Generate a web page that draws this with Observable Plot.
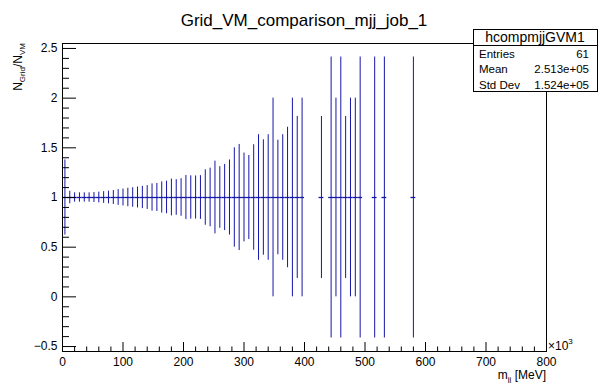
<!DOCTYPE html>
<html><head><meta charset="utf-8">
<script src="https://cdn.jsdelivr.net/npm/d3@7"></script>
<script src="https://cdn.jsdelivr.net/npm/@observablehq/plot@0.6"></script>
<style>body{margin:0;background:#fff} svg{display:block}</style>
</head><body><div id="chart"></div>
<script>
// m_jj bin centres (x10^3 MeV), bin width 8
const binCenters = [4,12,20,28,36,44,52,60,68,76,84,92,100,108,116,124,132,140,148,156,164,172,180,188,196,204,212,220,228,236,244,252,260,268,276,284,292,300,308,316,324,332,340,348,356,364,372,380,388,396,428,444,452,460,468,476,484,492,516,532,580];
const ratio = binCenters.map(() => 1);
const errY = [0.378,0.063,0.047,0.047,0.047,0.047,0.05,0.054,0.059,0.064,0.07,0.079,0.085,0.093,0.098,0.105,0.112,0.12,0.137,0.141,0.157,0.164,0.185,0.179,0.189,0.222,0.218,0.217,0.22,0.279,0.295,0.366,0.31,0.333,0.378,0.5,0.534,0.447,0.423,0.531,0.632,0.581,0.632,1.0,0.577,0.632,0.707,1.0,0.816,1.0,0.816,1.414,1.0,1.414,0.816,1.0,1.0,1.414,1.414,1.414,1.414];
const binWidth = 8;
const xTickValues = [0,100,200,300,400,500,600,700,800];
const yTickValues = [-0.5,0,0.5,1,1.5,2,2.5];
const yTickLabels = ["\u22120.5","0","0.5","1","1.5","2","2.5"];
const statsTitle = "hcompmjjGVM1";
const statsRows = [["Entries","61"],["Mean","2.513e+05"],["Std Dev","1.524e+05"]];

const rows = binCenters.map((x, i) => ({x, y: ratio[i], e: errY[i]}));
const xMinor = d3.range(0, 41).map(i => i * 20).filter(v => v % 100 !== 0);
const yMinor = d3.range(-5, 26).map(i => i / 10).filter(v => Math.round(v * 10) % 5 !== 0);
const blue = "#1616a8";
const H = 383, W = 607, mT = 43, mB = 32, mL = 62, mR = 61;
const fh = H - mT - mB, fw = W - mL - mR;
const font = "'Liberation Sans', Helvetica, Arial, sans-serif";

const plot = Plot.plot({
  width: W, height: H,
  marginTop: mT, marginBottom: mB, marginLeft: mL, marginRight: mR,
  x: {domain: [0, 800]},
  y: {domain: [-0.55, 2.55]},
  style: {fontFamily: font, fontSize: "12px", background: "#fff", color: "#000"},
  marks: [
    Plot.ruleY(rows, {y: "y", x1: d => d.x - binWidth / 2, x2: d => d.x + binWidth / 2, stroke: blue, strokeWidth: 1.3}),
    Plot.ruleX(rows, {x: "x", y1: d => d.y - d.e, y2: d => d.y + d.e, stroke: blue, strokeWidth: 1}),
    Plot.tickX(xTickValues, {x: d => d, insetTop: fh - 9, stroke: "#000"}),
    Plot.tickX(xMinor, {x: d => d, insetTop: fh - 4.5, stroke: "#000"}),
    Plot.tickY(yTickValues, {y: d => d, insetRight: fw - 14, stroke: "#000"}),
    Plot.tickY(yMinor, {y: d => d, insetRight: fw - 7, stroke: "#000"}),
    Plot.axisX(xTickValues, {tickSize: 0, tickPadding: 6, fontSize: 12, label: null}),
    Plot.axisY(yTickValues, {tickSize: 0, tickPadding: 5, fontSize: 12, label: null,
      tickFormat: d => yTickLabels[yTickValues.indexOf(d)]}),
    Plot.frame({stroke: "#000"})
  ]
});
document.getElementById("chart").appendChild(plot);

const svg = d3.select(plot);
const g = svg.append("g").attr("font-family", font).attr("fill", "#000").attr("text-anchor", "start");
// title
g.append("text").attr("x", 304).attr("y", 26).attr("text-anchor", "middle")
  .attr("font-size", 17).text("Grid_VM_comparison_mjj_job_1");
// y label
const yl = g.append("text").attr("transform", `translate(21.5,${mT}) rotate(-90)`)
  .attr("text-anchor", "end").attr("font-size", 12);
yl.append("tspan").text("N");
yl.append("tspan").attr("font-size", 8).attr("dy", 3).text("Grid");
yl.append("tspan").attr("dy", -3).text("/N");
yl.append("tspan").attr("font-size", 8).attr("dy", 3).text("VM");
// x label
const xl = g.append("text").attr("x", W - mR).attr("y", 379).attr("text-anchor", "end").attr("font-size", 12);
xl.append("tspan").text("m");
xl.append("tspan").attr("font-size", 8).attr("dy", 3).text("jj");
xl.append("tspan").attr("dy", -3).text(" [MeV]");
// exponent
const ex = g.append("text").attr("x", W - mR + 2).attr("y", 350).attr("text-anchor", "start").attr("font-size", 12);
ex.append("tspan").text("\u00d710");
ex.append("tspan").attr("font-size", 8).attr("dy", -6).text("3");
// stats box
const bx = 473, by = 29, bw = 124, bh = 62, hh = 16;
g.append("rect").attr("x", bx + 0.5).attr("y", by + 0.5).attr("width", bw).attr("height", bh)
  .attr("fill", "#fff").attr("stroke", "#000");
g.append("line").attr("x1", bx + 0.5).attr("x2", bx + bw + 0.5).attr("y1", by + hh + 0.5).attr("y2", by + hh + 0.5).attr("stroke", "#000");
g.append("text").attr("x", bx + bw / 2).attr("y", by + 12.5).attr("text-anchor", "middle").attr("font-size", 14).text(statsTitle);
statsRows.forEach(([k, v], i) => {
  const yy = 57.5 + i * 15.5;
  g.append("text").attr("x", bx + 6).attr("y", yy).attr("text-anchor", "start").attr("font-size", 11.5).text(k);
  g.append("text").attr("x", bx + bw - 8).attr("y", yy).attr("text-anchor", "end").attr("font-size", 11.5).text(v);
});
</script>
</body></html>
